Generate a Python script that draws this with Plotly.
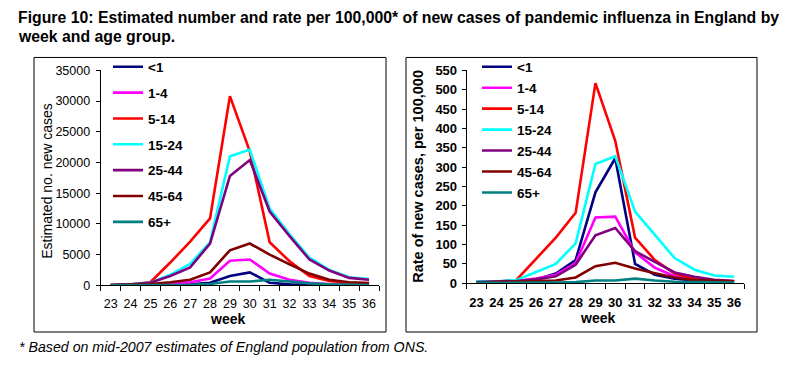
import plotly.graph_objects as go

weeks = [str(w) for w in range(23, 37)]
groups = ["<1", "1-4", "5-14", "15-24", "25-44", "45-64", "65+"]
colors = ["#000080", "#FF00FF", "#FF0000", "#00FFFF", "#800080", "#800000", "#008080"]

# Estimated number of new cases
cases_lt1 = [5, 10, 30, 80, 150, 400, 1500, 2100, 400, 150, 80, 40, 20, 15]
cases_1_4 = [10, 30, 100, 250, 500, 1100, 4000, 4200, 1900, 900, 400, 150, 80, 50]
cases_5_14 = [20, 100, 500, 3700, 7100, 10900, 30800, 21800, 7000, 3900, 1500, 700, 400, 300]
cases_15_24 = [50, 150, 400, 1700, 3500, 7000, 21000, 22100, 12500, 8300, 4500, 2500, 1300, 1000]
cases_25_44 = [50, 150, 400, 1500, 2900, 6800, 17800, 20400, 12000, 8000, 4200, 2400, 1200, 900]
cases_45_64 = [30, 80, 200, 500, 900, 2100, 5700, 6800, 5000, 3400, 1900, 900, 500, 350]
cases_65p = [5, 10, 20, 40, 80, 200, 600, 600, 900, 600, 300, 150, 80, 50]

# Rate of new cases per 100,000
rate_lt1 = [3, 3, 5, 10, 25, 60, 235, 323, 50, 22, 12, 7, 5, 4]
rate_1_4 = [3, 4, 6, 12, 22, 52, 170, 172, 80, 40, 18, 9, 5, 4]
rate_5_14 = [2, 4, 8, 62, 118, 182, 517, 368, 118, 60, 25, 12, 7, 5]
rate_15_24 = [5, 5, 8, 28, 50, 103, 308, 328, 185, 125, 65, 35, 20, 17]
rate_25_44 = [3, 4, 6, 10, 18, 48, 124, 143, 83, 55, 28, 17, 9, 6]
rate_45_64 = [2, 3, 4, 5, 7, 15, 44, 53, 38, 26, 15, 8, 6, 5]
rate_65p = [1, 1, 1, 2, 2, 3, 7, 7, 12, 7, 4, 3, 2, 2]

cases = [cases_lt1, cases_1_4, cases_5_14, cases_15_24, cases_25_44, cases_45_64, cases_65p]
rates = [rate_lt1, rate_1_4, rate_5_14, rate_15_24, rate_25_44, rate_45_64, rate_65p]

FONT = "Liberation Sans, Arial, sans-serif"
OFF = 8                      # default page margin of the html body
W, H = 794 - OFF, 373 - OFF  # figure size so it fits the window
VS, VO = 0.964, 5.6          # vertical calibration of the photographed page


def px(x):
    return (x - OFF) / W


def py(y):
    yp = (y - VO) / VS
    return 1 - (yp - OFF) / H


fig = go.Figure()
for i, g in enumerate(groups):
    fig.add_trace(go.Scatter(x=weeks, y=cases[i], mode="lines", name=g,
                             line=dict(color=colors[i], width=2.6),
                             xaxis="x", yaxis="y", legend="legend",
                             legendgroup="a" + str(i)))
for i, g in enumerate(groups):
    fig.add_trace(go.Scatter(x=weeks, y=rates[i], mode="lines", name=g,
                             line=dict(color=colors[i], width=2.6),
                             xaxis="x2", yaxis="y2", legend="legend2",
                             legendgroup="b" + str(i)))

base = dict(showline=True, linecolor="black", linewidth=1, ticks="outside",
            tickcolor="black", showgrid=False, zeroline=False, fixedrange=True)

fig.update_layout(
    width=W, height=H,
    margin=dict(l=0, r=0, t=0, b=0),
    paper_bgcolor="white", plot_bgcolor="white",
    font=dict(family=FONT, color="black"),
    xaxis=dict(domain=[px(100.7), px(379)], anchor="y", type="category",
               categoryorder="array", categoryarray=weeks,
               range=[-0.5, 13.5], tickson="boundaries", tickangle=0, ticklen=5,
               ticklabelstandoff=7, tickfont=dict(size=12.5), **base),
    yaxis=dict(domain=[py(285), py(69)], anchor="x", range=[0, 35000], dtick=5000,
               tickformat="d", ticklen=4, ticklabelstandoff=3,
               tickfont=dict(size=12.5), **base),
    xaxis2=dict(domain=[px(466.7), px(744)], anchor="y2", type="category",
                categoryorder="array", categoryarray=weeks,
                range=[-0.5, 13.5], tickson="boundaries", tickangle=0, ticklen=5,
                ticklabelstandoff=7, tickfont=dict(size=13, weight="bold"), **base),
    yaxis2=dict(domain=[py(283), py(69)], anchor="x2", range=[0, 550], dtick=50,
                tickformat="d", ticklen=4, ticklabelstandoff=2,
                tickfont=dict(size=13, weight="bold"), **base),
    legend=dict(x=px(108), y=py(50), xanchor="left", yanchor="top",
                bgcolor="rgba(0,0,0,0)", borderwidth=0, tracegroupgap=5.3,
                font=dict(size=13.5, weight="bold")),
    legend2=dict(x=px(477), y=py(50), xanchor="left", yanchor="top",
                 bgcolor="rgba(0,0,0,0)", borderwidth=0, tracegroupgap=0.4,
                 font=dict(size=13.5, weight="bold")),
    showlegend=True,
)

shapes = [
    dict(type="rect", xref="paper", yref="paper", x0=px(34), x1=px(386), y0=py(332), y1=py(56),
         line=dict(color="black", width=1)),
    dict(type="rect", xref="paper", yref="paper", x0=px(406), x1=px(757), y0=py(332), y1=py(56),
         line=dict(color="black", width=1)),
]
fig.update_layout(shapes=shapes)

annotations = [
    dict(text="<b>Figure 10: Estimated number and rate per 100,000* of new cases of pandemic influenza in England by</b>",
         x=px(16), y=py(16), xanchor="left", yanchor="middle", font=dict(size=15.8)),
    dict(text="<b>week and age group.</b>",
         x=px(16), y=py(35), xanchor="left", yanchor="middle", font=dict(size=15.8)),
    dict(text="<i>* Based on mid-2007 estimates of England population from ONS.</i>",
         x=px(17), y=py(347.5), xanchor="left", yanchor="middle", font=dict(size=14.2)),
    dict(text="Estimated no. new cases", textangle=-90,
         x=px(47), y=py(180), xanchor="center", yanchor="middle", font=dict(size=14)),
    dict(text="<b>Rate of new cases, per 100,000</b>", textangle=-90,
         x=px(418), y=py(176), xanchor="center", yanchor="middle", font=dict(size=14.5)),
    dict(text="<b>week</b>", x=px(227), y=py(319), xanchor="center", yanchor="middle",
         font=dict(size=14)),
    dict(text="<b>week</b>", x=px(597), y=py(318), xanchor="center", yanchor="middle",
         font=dict(size=14)),
]
for a in annotations:
    a.update(xref="paper", yref="paper", showarrow=False)
fig.update_layout(annotations=annotations)

fig.write_html("out.html", config={"displayModeBar": False})
